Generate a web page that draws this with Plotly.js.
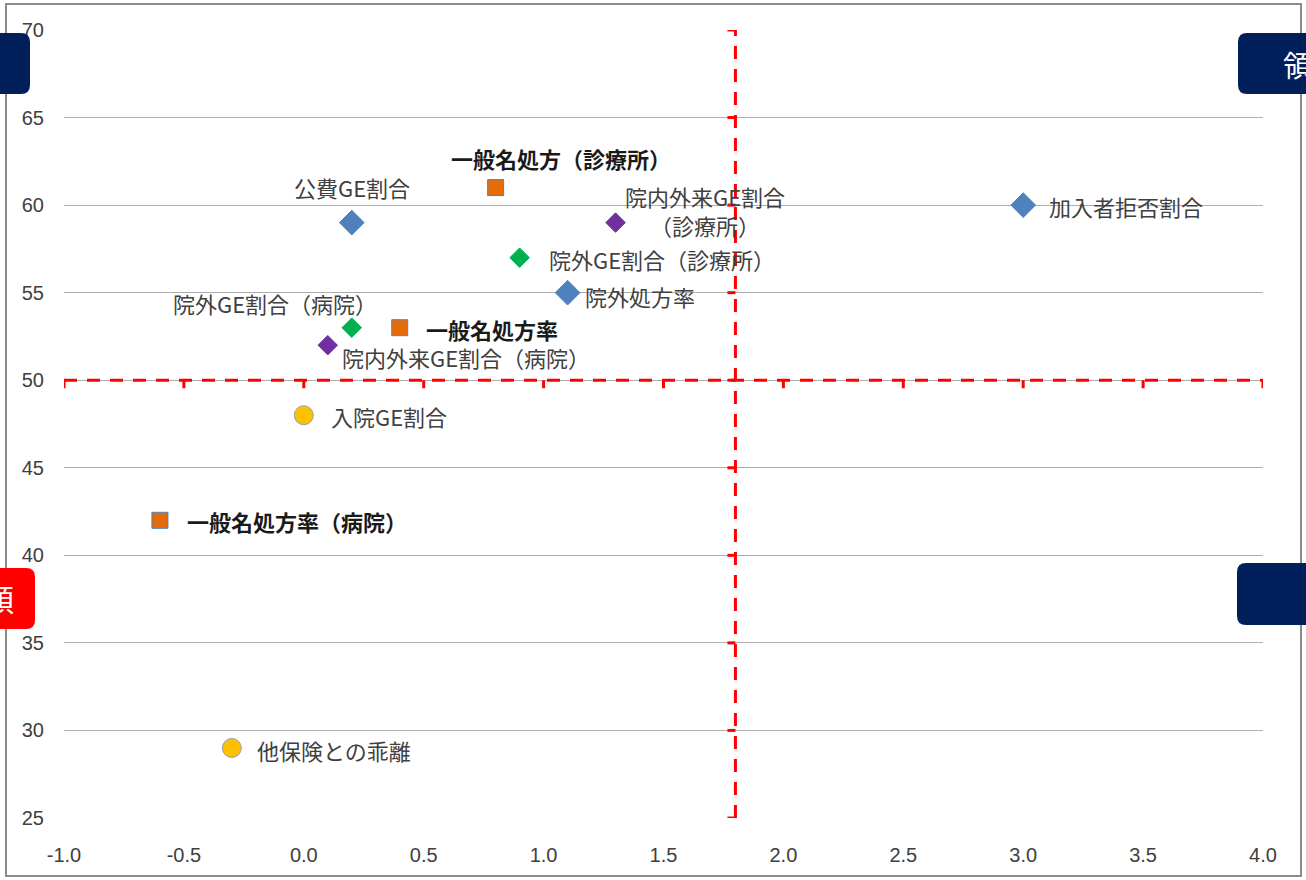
<!DOCTYPE html>
<html>
<head>
<meta charset="utf-8">
<script src="https://cdn.plot.ly/plotly-3.0.1.min.js"></script>
<style>
  html, body { margin: 0; padding: 0; background: #ffffff; }
  #chart { width: 1306px; height: 880px; }
</style>
</head>
<body>
<div id="chart"></div>
<script>
// ---------------- data ----------------
const blueLabels   = ["公費GE割合", "加入者拒否割合", "院外処方率"];
const blueX        = [0.2, 3.0, 1.1];
const blueY        = [59, 60, 55];

const orangeLabels = ["一般名処方（診療所）", "一般名処方率", "一般名処方率（病院）"];
const orangeX      = [0.8, 0.4, -0.6];
const orangeY      = [61, 53, 42];

const purpleLabels = ["院内外来GE割合<br>（診療所）", "院内外来GE割合（病院）"];
const purpleX      = [1.3, 0.1];
const purpleY      = [59, 52];

const greenLabels  = ["院外GE割合（診療所）", "院外GE割合（病院）"];
const greenX       = [0.9, 0.2];
const greenY       = [57, 53];

const yellowLabels = ["入院GE割合", "他保険との乖離"];
const yellowX      = [0.0, -0.3];
const yellowY      = [48, 29];

const thresholdX = 1.8;
const thresholdY = 50;

const xRange = [-1.0, 4.0];
const yRange = [25, 70];
const xTickStep = 0.5;
const yTickStep = 5;

const boxTexts = { topRight: "領域", leftRed: "額", leftStray: "。" };

// ---------------- geometry helpers ----------------
const W = 1306, H = 880;
const M = { l: 64, r: 43, t: 30, b: 62 };
const PW = W - M.l - M.r, PH = H - M.t - M.b;
const px = x => (x - M.l) / PW;          // pixel -> paper x
const py = y => (H - M.b - y) / PH;      // pixel -> paper y

function roundRect(x0, y0, x1, y1, r) {
  const rx = r / PW, ry = r / PH;
  const a = px(x0), b = px(x1), c = py(y0), d = py(y1);
  return `M ${a + rx} ${c} L ${b - rx} ${c} Q ${b} ${c} ${b} ${c - ry} ` +
         `L ${b} ${d + ry} Q ${b} ${d} ${b - rx} ${d} L ${a + rx} ${d} ` +
         `Q ${a} ${d} ${a} ${d + ry} L ${a} ${c - ry} Q ${a} ${c} ${a + rx} ${c} Z`;
}

// tick values / texts (hyphen-minus like the reference)
const xTickVals = [], xTickText = [];
for (let v = xRange[0]; v <= xRange[1] + 1e-9; v += xTickStep) {
  const r = Math.round(v * 10) / 10;
  xTickVals.push(r); xTickText.push(r.toFixed(1));
}
const yTickVals = [];
for (let v = yRange[0]; v <= yRange[1] + 1e-9; v += yTickStep) yTickVals.push(v);

// ---------------- traces ----------------
function series(name, xs, ys, symbol, size, color, lineColor) {
  return {
    type: "scatter", mode: "markers", name: name, x: xs, y: ys,
    marker: { symbol: symbol, size: size, color: color,
              line: { color: lineColor, width: 1 } },
    hoverinfo: "x+y", showlegend: false, cliponaxis: false
  };
}

const traces = [
  { type: "scatter", mode: "lines", x: xRange, y: [thresholdY, thresholdY],
    line: { color: "#FF0000", width: 3, dash: "13px,10px" }, hoverinfo: "skip", showlegend: false },
  { type: "scatter", mode: "lines", x: [thresholdX, thresholdX], y: yRange,
    line: { color: "#FF0000", width: 3, dash: "13px,10px" }, hoverinfo: "skip", showlegend: false },
  series("blue", blueX, blueY, "diamond", 19, "#4F81BD", "#4F81BD"),
  series("orange", orangeX, orangeY, "square", 16, "#E46C0A", "#4F81BD"),
  series("purple", purpleX, purpleY, "diamond", 15, "#7030A0", "#7030A0"),
  series("green", greenX, greenY, "diamond", 15, "#00B050", "#00B050"),
  series("yellow", yellowX, yellowY, "circle", 19, "#FFC000", "#8EA3BF")
];

// ---------------- label placement (pixel offsets from the point) ----------------
const FONT_JP = "'Noto Sans CJK JP', 'Noto Sans', sans-serif";
const labelStyle = [
  [blueLabels, blueX, blueY, [[0, 36, "center", false], [24, -1, "left", false], [15, -3, "left", false]]],
  [orangeLabels, orangeX, orangeY, [[65, 30, "center", true], [24, -1, "left", true], [25, -1, "left", true]]],
  [purpleLabels, purpleX, purpleY, [[89, 12, "center", false], [12, -12, "left", false]]],
  [greenLabels, greenX, greenY, [[27, -1, "left", false], [-77, 25, "center", false]]],
  [yellowLabels, yellowX, yellowY, [[25, -1, "left", false], [23, -2, "left", false]]]
];

const annotations = [];
labelStyle.forEach(([labels, xs, ys, offs]) => {
  labels.forEach((t, i) => {
    const o = offs[i];
    annotations.push({
      x: xs[i], y: ys[i], xref: "x", yref: "y", text: o[3] ? "<b>" + t + "</b>" : t,
      showarrow: false, xanchor: o[2], yanchor: "middle", xshift: o[0], yshift: o[1],
      align: "center",
      font: { family: FONT_JP, size: 22, color: o[3] ? "#1a1a1a" : "#404040" }
    });
  });
});

annotations.push({
  xref: "paper", yref: "paper", x: px(1281), y: py(64), xanchor: "left", yanchor: "middle",
  text: boxTexts.topRight, showarrow: false,
  font: { family: FONT_JP, size: 29, color: "#FFFFFF" }
});
annotations.push({
  xref: "paper", yref: "paper", x: px(16), y: py(598), xanchor: "right", yanchor: "middle",
  text: boxTexts.leftRed, showarrow: false,
  font: { family: FONT_JP, size: 30, color: "#FFFFFF" }
});
annotations.push({
  xref: "paper", yref: "paper", x: px(13), y: py(752), xanchor: "right", yanchor: "middle",
  text: boxTexts.leftStray, showarrow: false,
  font: { family: FONT_JP, size: 18, color: "#404040" }
});

// ---------------- shapes ----------------
const shapes = [];
shapes.push({ type: "rect", xref: "paper", yref: "paper",
  x0: px(6), x1: px(1301), y0: py(4), y1: py(876),
  line: { color: "#8c8c8c", width: 2 }, fillcolor: "rgba(0,0,0,0)", layer: "below" });

yTickVals.forEach(v => {
  shapes.push({ type: "line", xref: "x", yref: "y", xsizemode: "pixel", xanchor: thresholdX,
    x0: -8, x1: 0, y0: v, y1: v, line: { color: "#FF0000", width: 3 } });
});
xTickVals.forEach(v => {
  shapes.push({ type: "line", xref: "x", yref: "y", ysizemode: "pixel", yanchor: thresholdY,
    y0: -8, y1: 0, x0: v, x1: v, line: { color: "#FF0000", width: 3 } });
});

shapes.push({ type: "path", xref: "paper", yref: "paper", path: roundRect(-20, 33, 30, 94, 9),
  fillcolor: "#001F5B", line: { width: 0 }, layer: "above" });
shapes.push({ type: "path", xref: "paper", yref: "paper", path: roundRect(1238, 33, 1340, 94, 9),
  fillcolor: "#001F5B", line: { width: 0 }, layer: "above" });
shapes.push({ type: "path", xref: "paper", yref: "paper", path: roundRect(1237, 563, 1340, 625, 9),
  fillcolor: "#001F5B", line: { width: 0 }, layer: "above" });
shapes.push({ type: "path", xref: "paper", yref: "paper", path: roundRect(-20, 568, 35, 629, 9),
  fillcolor: "#FF0000", line: { width: 0 }, layer: "above" });

// ---------------- layout ----------------
const tickFont = { family: "'Liberation Sans', Arial, sans-serif", size: 20, color: "#404040" };
const layout = {
  width: W, height: H,
  margin: M,
  paper_bgcolor: "#FFFFFF", plot_bgcolor: "#FFFFFF",
  showlegend: false,
  xaxis: {
    range: xRange, tickmode: "array", tickvals: xTickVals, ticktext: xTickText,
    showgrid: false, zeroline: false, showline: false,
    ticks: "outside", ticklen: 19, tickcolor: "rgba(0,0,0,0)",
    tickfont: tickFont, fixedrange: true
  },
  yaxis: {
    range: yRange, tickmode: "array", tickvals: yTickVals, ticktext: yTickVals.map(String),
    showgrid: true, gridcolor: "#ADADAD", gridwidth: 1,
    zeroline: false, showline: false,
    ticks: "outside", ticklen: 15, tickcolor: "rgba(0,0,0,0)",
    tickfont: tickFont, fixedrange: true
  },
  shapes: shapes,
  annotations: annotations
};

Plotly.newPlot("chart", traces, layout, { displayModeBar: false, staticPlot: true });
</script>
</body>
</html>
